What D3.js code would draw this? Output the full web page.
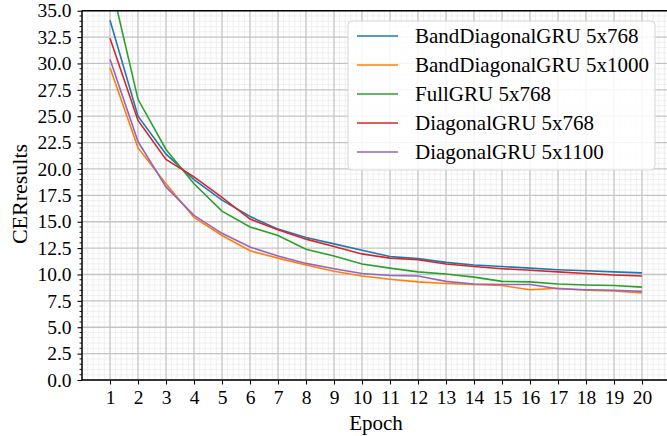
<!DOCTYPE html>
<html>
<head>
<meta charset="utf-8">
<script src="https://cdn.jsdelivr.net/npm/d3@7"></script>
<style>
  body { margin: 0; background: #fff; }
  svg { display: block; }
  text { font-family: "Liberation Serif", "DejaVu Serif", serif; fill: #000; }
</style>
</head>
<body>
<svg id="chart" width="667" height="436"></svg>
<script>
// data
const epochs = [1,2,3,4,5,6,7,8,9,10,11,12,13,14,15,16,17,18,19,20];
const seriesNames = ["BandDiagonalGRU 5x768", "BandDiagonalGRU 5x1000", "FullGRU 5x768", "DiagonalGRU 5x768", "DiagonalGRU 5x1100"];
const colors = ["#1f77b4", "#ff7f0e", "#2ca02c", "#d62728", "#9467bd"];
const band768 = [34.1, 25.0, 21.4, 19.0, 17.05, 15.5, 14.3, 13.5, 12.9, 12.3, 11.7, 11.5, 11.15, 10.9, 10.75, 10.6, 10.45, 10.35, 10.25, 10.15];
const band1000 = [29.6, 22.0, 18.6, 15.4, 13.7, 12.25, 11.55, 10.9, 10.3, 9.85, 9.55, 9.3, 9.15, 9.05, 8.95, 8.55, 8.7, 8.5, 8.45, 8.25];
const full768 = [38.0, 26.6, 21.85, 18.6, 16.0, 14.5, 13.7, 12.4, 11.75, 11.0, 10.6, 10.25, 10.05, 9.75, 9.35, 9.3, 9.1, 9.0, 8.95, 8.8];
const diag768 = [32.4, 24.6, 20.9, 19.25, 17.3, 15.25, 14.25, 13.35, 12.65, 11.95, 11.55, 11.4, 11.0, 10.75, 10.55, 10.4, 10.25, 10.1, 9.95, 9.85];
const diag1100 = [30.4, 22.6, 18.3, 15.6, 13.9, 12.6, 11.75, 11.05, 10.55, 10.1, 9.9, 9.85, 9.35, 9.1, 9.05, 9.05, 8.65, 8.55, 8.5, 8.4];
const allSeries = [band768, band1000, full768, diag768, diag1100];
const yTicks = [0, 2.5, 5, 7.5, 10, 12.5, 15, 17.5, 20, 22.5, 25, 27.5, 30, 32.5, 35];

const svg = d3.select("#chart");
const plotLeft = 82, plotRight = 670, plotTop = 10.7, plotBottom = 380;

const x = d3.scaleLinear().domain([0, 21]).range([plotLeft, plotRight]);
const y = d3.scaleLinear().domain([0, 35]).range([plotBottom, plotTop]);

svg.append("defs").append("clipPath").attr("id", "plotclip")
  .append("rect").attr("x", plotLeft).attr("y", plotTop).attr("width", plotRight - plotLeft).attr("height", plotBottom - plotTop);

// minor grid
const xMinor = d3.range(0, 21.001, 0.2).filter(v => Math.abs(v - Math.round(v)) > 1e-6);
const yMinor = d3.range(0, 35.001, 0.5).filter(v => Math.abs(v / 2.5 - Math.round(v / 2.5)) > 1e-6);
const grid = svg.append("g");
grid.selectAll(".xminor").data(xMinor).enter().append("line")
  .attr("x1", d => x(d)).attr("x2", d => x(d)).attr("y1", plotTop).attr("y2", plotBottom)
  .attr("stroke", "#ebebeb").attr("stroke-width", 0.8);
grid.selectAll(".yminor").data(yMinor).enter().append("line")
  .attr("x1", plotLeft).attr("x2", plotRight).attr("y1", d => y(d)).attr("y2", d => y(d))
  .attr("stroke", "#ebebeb").attr("stroke-width", 0.8);
// major grid
grid.selectAll(".xmajor").data(epochs).enter().append("line")
  .attr("x1", d => x(d)).attr("x2", d => x(d)).attr("y1", plotTop).attr("y2", plotBottom)
  .attr("stroke", "#c4c4c4").attr("stroke-width", 1.3);
grid.selectAll(".ymajor").data(yTicks).enter().append("line")
  .attr("x1", plotLeft).attr("x2", plotRight).attr("y1", d => y(d)).attr("y2", d => y(d))
  .attr("stroke", "#c4c4c4").attr("stroke-width", 1.3);

// lines
const line = d3.line().x((d, i) => x(epochs[i])).y(d => y(d));
const plot = svg.append("g").attr("clip-path", "url(#plotclip)");
allSeries.forEach((s, i) => {
  plot.append("path").datum(s).attr("d", line)
    .attr("fill", "none").attr("stroke", colors[i]).attr("stroke-width", 1.6);
});

// axes
const yAxis = svg.append("g").attr("transform", `translate(${plotLeft},0)`)
  .call(d3.axisLeft(y).tickValues(yTicks).tickFormat(d3.format(".1f")).tickSizeInner(4.5).tickSizeOuter(0).tickPadding(6));
yAxis.select(".domain").remove();
yAxis.selectAll("text").attr("font-size", 19.5).attr("font-family", "Liberation Serif");
yAxis.selectAll("line").attr("stroke-width", 1.1);
svg.append("g").selectAll("line").data(yMinor).enter().append("line")
  .attr("x1", plotLeft - 2.5).attr("x2", plotLeft).attr("y1", d => y(d)).attr("y2", d => y(d))
  .attr("stroke", "#000").attr("stroke-width", 0.9);

const xAxis = svg.append("g").attr("transform", `translate(0,${plotBottom})`)
  .call(d3.axisBottom(x).tickValues(epochs).tickFormat(d3.format("d")).tickSizeInner(4.5).tickSizeOuter(0).tickPadding(6));
xAxis.select(".domain").remove();
xAxis.selectAll("text").attr("font-size", 19.5).attr("font-family", "Liberation Serif");
xAxis.selectAll("line").attr("stroke-width", 1.1);

// spines
svg.append("line").attr("x1", plotLeft).attr("x2", plotLeft).attr("y1", plotTop).attr("y2", plotBottom).attr("stroke", "#000").attr("stroke-width", 1.5);
svg.append("line").attr("x1", plotLeft).attr("x2", plotRight).attr("y1", plotBottom).attr("y2", plotBottom).attr("stroke", "#000").attr("stroke-width", 1.5);
svg.append("line").attr("x1", plotLeft).attr("x2", plotRight).attr("y1", plotTop).attr("y2", plotTop).attr("stroke", "#000").attr("stroke-width", 1.5);

// axis titles
svg.append("text").attr("x", 376).attr("y", 430).attr("text-anchor", "middle").attr("font-size", 21).text("Epoch");
svg.append("text").attr("transform", "translate(27,194) rotate(-90)").attr("text-anchor", "middle").attr("font-size", 22).text("CERresults");

// legend
const legend = svg.append("g");
legend.append("rect").attr("x", 348).attr("y", 21).attr("width", 307).attr("height", 149).attr("rx", 4)
  .attr("fill", "#fff").attr("fill-opacity", 0.85).attr("stroke", "#d6d6d6").attr("stroke-width", 1);
seriesNames.forEach((name, i) => {
  const ly = 36 + i * 29;
  legend.append("line").attr("x1", 357).attr("x2", 398).attr("y1", ly).attr("y2", ly)
    .attr("stroke", colors[i]).attr("stroke-width", 1.6);
  legend.append("text").attr("x", 415).attr("y", ly + 7).attr("font-size", 21).text(name);
});
</script>
</body>
</html>
